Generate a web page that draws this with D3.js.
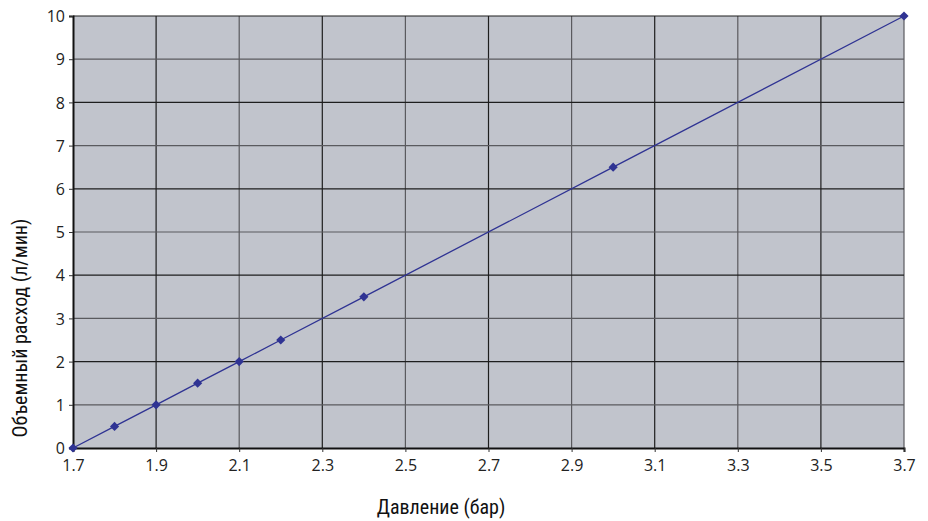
<!DOCTYPE html>
<html><head><meta charset="utf-8">
<script src="https://cdn.jsdelivr.net/npm/d3@7"></script>
<style>body{margin:0;background:#fff}svg{display:block}</style>
</head><body><svg id="c" width="928" height="521"></svg>
<script>
const pressure = [1.7, 1.8, 1.9, 2.0, 2.1, 2.2, 2.4, 3.0, 3.7];
const flow = [0, 0.5, 1, 1.5, 2, 2.5, 3.5, 6.5, 10];
const xTicks = [1.7, 1.9, 2.1, 2.3, 2.5, 2.7, 2.9, 3.1, 3.3, 3.5, 3.7];
const yTicks = [0,1,2,3,4,5,6,7,8,9,10];
const xTitle = "Давление (бар)";
const yTitle = "Объемный расход (л/мин)";

const svg = d3.select("#c");
const m = {l:73, t:16, r:904, b:448};
const x = d3.scaleLinear().domain([1.7,3.7]).range([m.l,m.r]);
const y = d3.scaleLinear().domain([0,10]).range([m.b,m.t]);
const tickFont = "'Open Sans', 'Noto Sans', sans-serif";

svg.append("rect").attr("x",m.l).attr("y",m.t).attr("width",m.r-m.l).attr("height",m.b-m.t).attr("fill","#c1c4cc");

// grid
svg.append("g").selectAll("line").data(xTicks.slice(1)).join("line")
  .attr("x1",d=>x(d)).attr("x2",d=>x(d)).attr("y1",m.t).attr("y2",m.b)
  .attr("stroke",(d,i)=>i%2?"#5a5a5e":"#1e1e1e").attr("stroke-width",1.2);
svg.append("g").selectAll("line").data(yTicks.slice(1)).join("line")
  .attr("x1",m.l).attr("x2",m.r).attr("y1",d=>y(d)).attr("y2",d=>y(d))
  .attr("stroke",(d,i)=>i%2?"#1e1e1e":"#5a5a5e").attr("stroke-width",1.2);

// axes
const xa = svg.append("g").attr("transform",`translate(0,${m.b})`)
  .call(d3.axisBottom(x).tickValues(xTicks).tickFormat(d3.format(".1f")).tickSize(4).tickPadding(8));
const ya = svg.append("g").attr("transform",`translate(${m.l},0)`)
  .call(d3.axisLeft(y).tickValues(yTicks).tickFormat(d3.format("d")).tickSize(4).tickPadding(4));
[xa,ya].forEach(a=>{
  a.attr("font-size",null).attr("font-family",null);
  a.select(".domain").attr("stroke","#111").attr("stroke-width",2);
  a.selectAll(".tick line").attr("stroke","#333").attr("stroke-width",1);
  a.selectAll("text").style("font-family",tickFont).style("font-size","16px").attr("fill","#222");
});
xa.selectAll("text").attr("dy","0.71em");
ya.selectAll("text").attr("dy","0.36em");

// line + markers
const pts = pressure.map((p,i)=>[p,flow[i]]);
svg.append("path").datum(pts).attr("fill","none").attr("stroke","#2f3393").attr("stroke-width",1.3)
  .attr("d",d3.line().x(d=>x(d[0])).y(d=>y(d[1])));
svg.append("g").selectAll("path").data(pts).join("path")
  .attr("transform",d=>`translate(${x(d[0])},${y(d[1])}) rotate(45)`)
  .attr("d",d3.symbol(d3.symbolSquare,42)).attr("fill","#2f3393");

// titles
const titleFont = "'Liberation Sans Narrow', 'Roboto', sans-serif";
svg.append("text").attr("x",441).attr("y",514).attr("text-anchor","middle")
  .attr("font-family",titleFont).attr("font-stretch","condensed").attr("font-size",20).attr("fill","#111").text(xTitle);
svg.append("text").attr("transform","translate(27,328) rotate(-90)").attr("text-anchor","middle")
  .attr("font-family",titleFont).attr("font-stretch","condensed").attr("font-size",20).attr("fill","#111").text(yTitle);
</script></body></html>
